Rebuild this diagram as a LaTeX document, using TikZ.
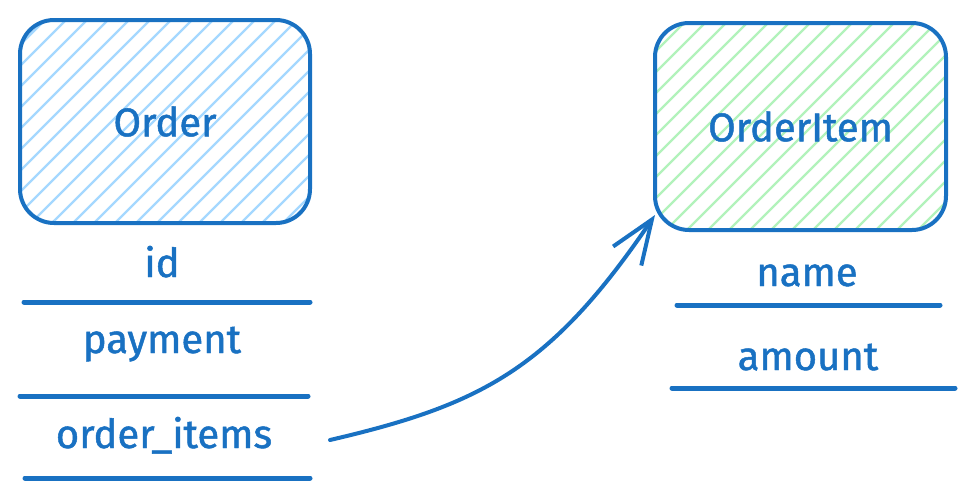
\documentclass[tikz,border=0pt]{standalone}
\usepackage{fontspec}
\setmainfont{Fira Sans}
\newfontfamily\handfont[FakeBold=1.2]{Fira Sans}
\usetikzlibrary{arrows.meta}
\definecolor{ink}{HTML}{1971C2}
\definecolor{hatchblue}{HTML}{A5D8FF}
\definecolor{hatchgreen}{HTML}{B2F2BB}
\tikzset{
  entity/.style={draw=ink, line width=4pt, rounded corners=34pt, inner sep=0pt, text=ink,
    font=\handfont\fontsize{40}{46}\selectfont,
    path picture={\foreach \k in {-220,-199,...,300}
      \draw[#1, line width=2.2pt] ([xshift=\k pt]path picture bounding box.south west) -- ++(320pt,320pt);}},
  field/.style={anchor=base, text=ink, inner sep=0pt, font=\handfont\fontsize{40}{46}\selectfont},
  rule/.style={draw=ink, line width=5pt, line cap=round},
  link/.style={draw=ink, line width=4pt, line cap=round, -{Straight Barb[length=44pt,width=34pt]}}
}
\begin{document}
\begin{tikzpicture}[x=1pt,y=-1pt]
            \useasboundingbox (0,0) rectangle (975,501);
            % tables
            \node[entity=hatchblue, minimum width=290pt, minimum height=203pt] (order) at (165,121.5) {Order};
            \node[entity=hatchgreen, minimum width=291pt, minimum height=207pt] (item) at (800.5,126.5) {OrderItem};

            % Order fields
            \node[field] (id) at (162,277) {id};
            \node[field] (payment) at (162,353) {payment};
            \node[field] (items) at (164,448) {order\_items};
            \draw[rule] (24,302) -- (310,302);
            \draw[rule] (20,396) -- (308,396);
            \draw[rule] (25,478) -- (310,478);

            % OrderItem fields
            \node[field] (name) at (807,286) {name};
            \node[field] (amount) at (808,370) {amount};
            \draw[rule] (677,305) -- (940,305);
            \draw[rule] (672,388) -- (955,388);

            % relation
            \coordinate (tail) at (330,440);
            \coordinate (tip) at ([xshift=2pt,yshift=17pt]item.south west);
            \draw[link] (tail) .. controls (480,405) and (550,370) .. (tip);

\end{tikzpicture}
\end{document}
